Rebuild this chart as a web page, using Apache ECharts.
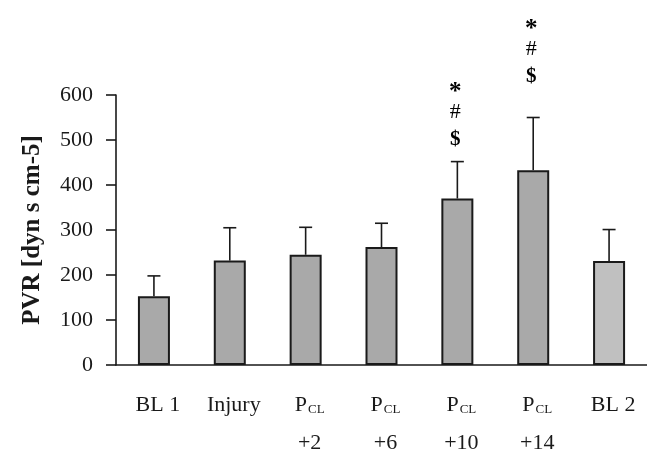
<!DOCTYPE html>
<html>
<head>
<meta charset="utf-8">
<script src="https://cdn.jsdelivr.net/npm/echarts@6/dist/echarts.min.js"></script>
<style>
  html, body { margin: 0; padding: 0; background: #fff; }
  #chart { width: 647px; height: 454px; }
</style>
</head>
<body>
<div id="chart"></div>
<script>
// PVR per phase, mean and SD
const categories = ["BL 1", "Injury", "PCL +2", "PCL +6", "PCL +10", "PCL +14", "BL 2"];
const means = [153, 232, 245, 262, 370, 433, 231];
const sds = [45, 73, 61, 53, 82, 117, 70];
const marks = [[], [], [], [], ["$", "#", "*"], ["$", "#", "*"], []];
const yTicks = [0, 100, 200, 300, 400, 500, 600];

const serif = "'Liberation Serif', 'Times New Roman', serif";
const ink = "#1a1a1a";
// how far above the error cap each annotation stack starts (px)
const markLift = [0, 0, 0, 0, 22, 41, 0];
const markStep = 27;
const markFont = { "*": "bold 25px", "#": "22px", "$": "bold 21px" };

const chart = echarts.init(document.getElementById("chart"));

chart.setOption({
  animation: false,
  backgroundColor: "#fff",
  grid: { left: 116, right: 0, top: 95, bottom: 87 },
  xAxis: {
    type: "category",
    data: categories,
    axisLine: { lineStyle: { color: ink, width: 1.6 } },
    axisTick: { length: 7, lineStyle: { color: ink, width: 1.6 } },
    axisLabel: {
      margin: 21,
      interval: 0,
      color: ink,
      fontFamily: serif,
      padding: [0, 0, 0, 8],
      formatter: (v) => {
        if (v.startsWith("PCL")) {
          return "{p|P}{s|CL}\n{a|" + v.split(" ")[1] + "}";
        }
        return "{a|" + v + "}";
      },
      rich: {
        a: { fontSize: 22, lineHeight: 38, fontFamily: serif, color: ink },
        p: { fontSize: 22, lineHeight: 38, fontFamily: serif, color: ink, verticalAlign: "middle" },
        s: { fontSize: 13, lineHeight: 14, fontFamily: serif, color: ink, verticalAlign: "middle", padding: [10, 0, 0, 1] },
      },
    },
  },
  yAxis: {
    type: "value",
    min: yTicks[0],
    max: yTicks[yTicks.length - 1],
    interval: yTicks[1] - yTicks[0],
    name: "PVR [dyn s cm-5]",
    nameLocation: "middle",
    nameGap: 71,
    nameRotate: 90,
    nameTextStyle: { fontFamily: serif, fontSize: 25, fontWeight: "bold", color: ink },
    axisLine: { show: true, lineStyle: { color: ink, width: 1.6 } },
    axisTick: { show: true, length: 10, lineStyle: { color: ink, width: 1.6 } },
    axisLabel: { margin: 23, fontFamily: serif, fontSize: 22, color: ink },
    splitLine: { show: false },
  },
  series: [
    {
      type: "bar",
      barWidth: 32,
      data: means.map((m, i) => ({
        value: m,
        itemStyle: { color: i === 6 ? "#c0c0c0" : "#a9a9a9" },
      })),
      itemStyle: { borderColor: ink, borderWidth: 2 },
      z: 2,
    },
    {
      type: "custom",
      data: means.map((m, i) => [i, m, sds[i]]),
      z: 3,
      renderItem: (params, api) => {
        const base = api.coord([api.value(0), api.value(1)]);
        const top = api.coord([api.value(0), api.value(1) + api.value(2)]);
        const idx = params.dataIndex;
        const cap = 6.5;
        const stroke = { stroke: ink, lineWidth: 1.6 };
        const children = [
          { type: "line", shape: { x1: base[0], y1: base[1], x2: base[0], y2: top[1] }, style: stroke },
          { type: "line", shape: { x1: base[0] - cap, y1: top[1], x2: base[0] + cap, y2: top[1] }, style: stroke },
        ];
        marks[idx].forEach((sym, k) => {
          children.push({
            type: "text",
            x: base[0] - 2,
            y: top[1] - markLift[idx] - k * markStep + (sym === "*" ? 7 : 0),
            style: {
              text: sym,
              font: markFont[sym] + " " + serif,
              fill: "#000",
              align: "center",
              verticalAlign: "middle",
            },
          });
        });
        return { type: "group", children };
      },
    },
  ],
});
</script>
</body>
</html>
